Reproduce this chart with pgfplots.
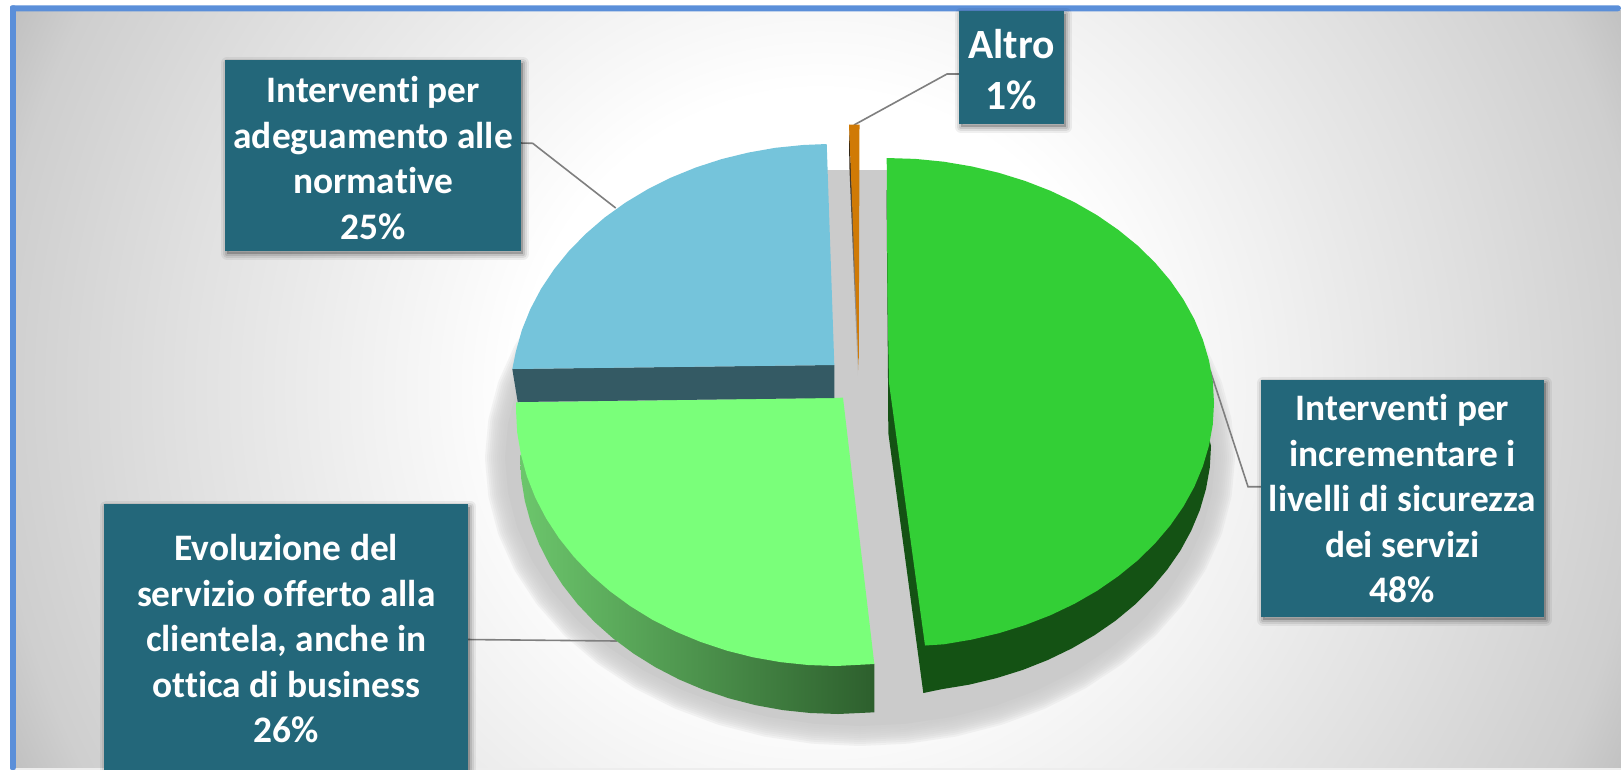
\documentclass[border=0pt]{standalone}
\usepackage{pgfplots}
\usepackage{pgfplotstable}
\usepackage{fontspec}
\setmainfont{Carlito}[Ligatures=NoCommon]
\pgfplotsset{compat=1.18}
\definecolor{frameblue}{HTML}{5B8FD9}
\definecolor{boxcol}{HTML}{23677A}
\definecolor{shadowgray}{HTML}{CBCBCB}
\definecolor{leader}{HTML}{7F7F7F}
\definecolor{sicur}{HTML}{33CF36}
\definecolor{sicurwall}{HTML}{145214}
\definecolor{servizio}{HTML}{7AFF7A}
\definecolor{norma}{HTML}{75C4DB}
\definecolor{normawall}{HTML}{345A64}
\definecolor{altro}{HTML}{D07A05}
\definecolor{servL}{HTML}{6CC66C}
\definecolor{servM}{HTML}{458F45}
\definecolor{servR}{HTML}{2D5F2D}
\pgfdeclareradialshading{bgshade}{\pgfpoint{0bp}{0bp}}{
  color(0bp)=(white);
  color(8.3bp)=(white);
  color(11.4bp)=(black!4);
  color(13bp)=(black!6);
  color(15.3bp)=(black!9);
  color(17.7bp)=(black!12);
  color(23bp)=(black!19);
  color(24.9bp)=(black!25);
  color(50bp)=(black!25)}
% --- data tables: outlines in picture pixels
\pgfplotstableread{
x y
860 190
906.3 192.3
951.9 199.1
995.9 210.4
1037.5 225.9
1076.1 245.4
1111 268.5
1141.7 294.8
1167.4 324
1188 355.4
1202.9 388.6
1211.9 423
1215 458
1211.9 493
1202.9 527.4
1188 560.6
1167.4 592
1141.7 621.2
1111 647.5
1076.1 670.6
1037.5 690.1
995.9 705.6
951.9 716.9
906.3 723.7
860 726
813.7 723.7
768.1 716.9
724.1 705.6
682.5 690.1
643.9 670.6
609 647.5
578.3 621.2
552.6 592
532 560.6
517.1 527.4
508.1 493
505 458
508.1 423
517.1 388.6
532 355.4
552.6 324
578.3 294.8
609 268.5
643.9 245.4
682.5 225.9
724.1 210.4
768.1 199.1
813.7 192.3
860 190
}\shadowT
\pgfplotstableread{
x y
827 170
887 170
887 420
827 420
}\gapT
\pgfplotstableread{
x y
886.5 190
888 380
888.3 433
923.3 693
941.6 689.2
969.4 684.6
996.5 678.1
1022.8 669.9
1048 659.9
1072 648.3
1094.5 635.2
1115.5 620.7
1134.7 604.8
1152 587.7
1167.3 569.5
1180.5 550.4
1191.3 530.5
1199.9 509.9
1206 488.9
1209.8 467.5
1211 446
1200 400
}\sicurWallT
\pgfplotstableread{
x y
886.7 158
915.5 158.9
943.8 161.7
971.6 166.4
998.8 172.8
1025.2 181
1050.5 190.8
1074.6 202.3
1097.2 215.3
1118.2 229.8
1137.5 245.5
1154.9 262.5
1170.2 280.5
1183.4 299.5
1194.3 319.2
1202.8 339.6
1209 360.5
1212.8 381.6
1214 403
1212.8 424.4
1209 445.5
1202.8 466.4
1194.3 486.8
1183.4 506.5
1170.2 525.5
1154.9 543.5
1137.5 560.5
1118.2 576.2
1097.2 590.7
1074.6 603.7
1050.5 615.2
1025.2 625
998.8 633.2
971.6 639.6
943.8 644.3
925 645.5
889 383
887.5 300
}\sicurT
\pgfplotstableread{
x y
874.3 712.3
838 714
810.3 713
782.8 710.1
755.7 705.2
729.2 698.4
703.6 689.8
679 679.4
655.6 667.3
633.6 653.6
613.1 638.4
594.4 621.8
577.5 604
562.6 585
549.8 565
539.2 544.2
530.8 522.8
524.8 500.8
521.2 478.5
520 456
530 440
874.3 664
}\servWallT
\pgfplotstableread{
x y
516 402.3
843 397.7
874.3 664
836 666
808.1 665
780.4 662.1
753.2 657.3
726.6 650.6
700.8 642
676 631.7
652.4 619.7
630.3 606.1
609.7 591
590.9 574.6
573.9 556.8
558.9 538
546 518.2
535.3 497.6
526.9 476.3
520.9 454.4
517.2 432.3
516 410
}\servT
\pgfplotstableread{
x y
512.3 369
517.7 402
834.3 398
834.3 365
}\normaWallT
\pgfplotstableread{
x y
826.7 144
803.1 145
775.4 147.8
748.2 152.6
721.6 159.1
695.8 167.5
671 177.6
647.4 189.4
625.3 202.7
604.7 217.5
585.9 233.7
568.9 251
553.9 269.5
541 288.9
530.3 309.2
521.9 330
515.9 351.4
512.3 369
834.3 365
}\normaT
\pgfplotstableread{
x y
849 124.5
849.3 165
858.7 393
858.7 340
}\altroWallT
\pgfplotstableread{
x y
849 124.5
859.5 124.5
858.7 370
}\altroT
% --- a label box with its soft shadow
\newcommand\labelbox[8]{%
  \fill[black,opacity=.2] (axis cs:#1+2,#2+3) rectangle (axis cs:#3+2,#4+3);
  \draw[black,opacity=.06,line width=6pt,line join=round] (axis cs:#1+2,#2+3) rectangle (axis cs:#3+2,#4+3);
  \draw[black,opacity=.08,line width=4pt,line join=round] (axis cs:#1+2,#2+3) rectangle (axis cs:#3+2,#4+3);
  \draw[black,opacity=.10,line width=2pt,line join=round] (axis cs:#1+2,#2+3) rectangle (axis cs:#3+2,#4+3);
  \fill[boxcol] (axis cs:#1,#2) rectangle (axis cs:#3,#4);
  \node[text=white,align=center,inner sep=0pt,anchor=center,font=\fontsize{#7}{#8}\selectfont\bfseries] at (axis cs:{(#1+#3)/2},#5) {#6};
}
\begin{document}
\begin{tikzpicture}[x=0.5pt,y=-0.5pt]
% page and frame (pixel coordinates, y downwards from the top edge)
\fill[white] (0,0) rectangle (1621,770);
\fill[black!7] (10,766) rectangle (1621,770);
\begin{scope}
\clip (15.5,11) rectangle (1621,767);
\shade[shading=bgshade] (820,390) circle (900);
\end{scope}
\fill[frameblue,rounded corners=1.5pt] (10,5.3) rectangle (1621,11.3);
\fill[frameblue,rounded corners=1pt] (10,5.3) rectangle (15.8,770);
\begin{axis}[at={(0pt,-385pt)},anchor=south west,scale only axis,width=810.5pt,height=385pt,
  xmin=0,xmax=1621,ymin=0,ymax=770,y dir=reverse,axis lines=none,clip=false,
  table/x=x,table/y=y]
% pie shadow
\pgfplotsinvokeforeach{20,18,16,14,12,10,8,6,4,2}{
  \addplot[shadowgray,opacity=.2,line width=#1pt,line join=round,mark=none,fill=none] table {\shadowT};
}
\addplot[fill=shadowgray,draw=none,mark=none] table {\shadowT};
\addplot[fill=shadowgray,draw=none,mark=none] table {\gapT};
% leader lines
\addplot[leader,line width=.8pt,mark=none] coordinates {(854,125) (947,74) (960,74)};
\addplot[leader,line width=.8pt,mark=none] coordinates {(520,143) (532.7,143.3) (615.7,208)};
\addplot[leader,line width=.8pt,mark=none] coordinates {(1210,370) (1248,486.7) (1262,486.7)};
\addplot[leader,line width=.8pt,mark=none] coordinates {(467,639.5) (617,641)};
% slices
\addplot[fill=sicurwall,draw=none,mark=none] table {\sicurWallT};
\addplot[fill=sicur,draw=none,mark=none] table {\sicurT};
\addplot[draw=none,mark=none,left color=servL,middle color=servM,right color=servR] table {\servWallT};
\addplot[fill=servizio,draw=none,mark=none] table {\servT};
\addplot[fill=normawall,draw=none,mark=none] table {\normaWallT};
\addplot[fill=norma,draw=none,mark=none] table {\normaT};
\addplot[draw=none,mark=none,top color=black!85!altro,bottom color=shadowgray] table {\altroWallT};
\addplot[fill=altro,draw=none,mark=none] table {\altroT};
% labels
\labelbox{225.4}{60}{521}{251}{158}{Interventi per\\adeguamento alle\\normative\\25\%}{18.7}{22.75}
\labelbox{104.4}{503.5}{468.3}{770}{639}{Evoluzione del\\servizio offerto alla\\clientela, anche in\\ottica di business\\26\%}{18.7}{22.75}
\labelbox{1261}{380.4}{1544}{617}{499}{Interventi per\\incrementare i\\livelli di sicurezza\\dei servizi\\48\%}{18.7}{22.75}
\labelbox{959}{11.3}{1064}{124}{70}{Altro\\1\%}{20.8}{25.5}
\end{axis}
\pgfresetboundingbox
\path[use as bounding box] (0,0) rectangle (1621,770);
\end{tikzpicture}
\end{document}
